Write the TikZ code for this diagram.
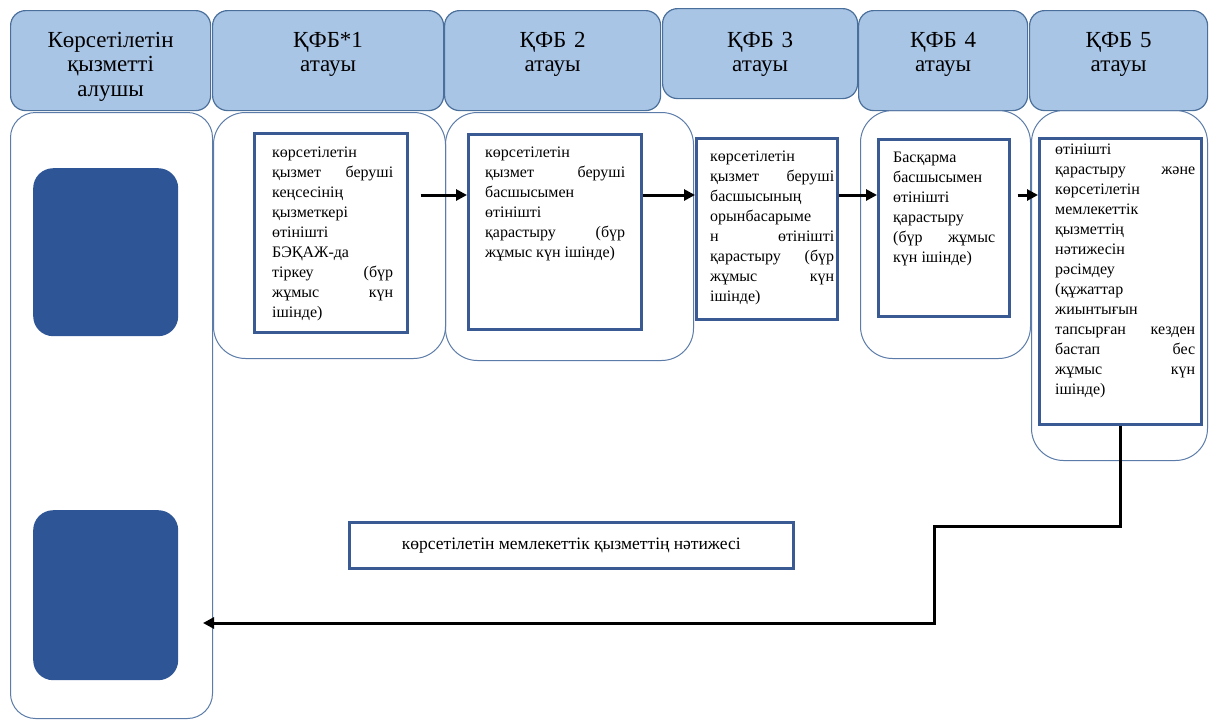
\documentclass[tikz,border=0pt]{standalone}
\usepackage{fontspec}
\setmainfont{Liberation Serif}
\usetikzlibrary{arrows.meta}

\definecolor{headfill}{HTML}{A9C5E6}
\definecolor{headline}{HTML}{4A6F9A}
\definecolor{laneline}{HTML}{5B7BA8}
\definecolor{boxline}{HTML}{3A5A94}
\definecolor{tokenblue}{HTML}{2E5596}

\tolerance=10000
\hyphenpenalty=10000

\tikzset{
  head/.style={draw=headline, fill=headfill, line width=1.2pt, rounded corners=15pt, anchor=north west, inner sep=0pt},
  headtext/.style={anchor=north, align=center, font=\fontsize{23}{24.5}\selectfont, inner sep=0pt},
  lane/.style={draw=laneline, line width=1pt, rounded corners=32pt, anchor=north west, inner sep=0pt},
  token/.style={fill=tokenblue, rounded corners=20pt, anchor=north west, inner sep=0pt},
  stepbox/.style={draw=boxline, line width=2.5pt, fill=white, anchor=north west, inner sep=0pt},
  steptext/.style={anchor=north west, align=justify, font=\fontsize{16}{20}\selectfont, inner sep=0pt},
  flow/.style={line width=3pt, -{Triangle[length=11pt,width=11pt]}},
}

\begin{document}
\begin{tikzpicture}[x=1pt,y=-1pt]
    \useasboundingbox (0,0) rectangle (1211,721);

    % Column heads
    \node[head, minimum width=200, minimum height=100] (h0) at (10,10) {};
    \node[head, minimum width=231, minimum height=100] (h1) at (212,10) {};
    \node[head, minimum width=216, minimum height=100] (h2) at (444,10) {};
    \node[head, minimum width=195, minimum height=90] (h3) at (662,8) {};
    \node[head, minimum width=169, minimum height=100] (h4) at (858,10) {};
    \node[head, minimum width=178, minimum height=100] (h5) at (1029,10) {};

    \node[headtext, text width=180] (h0text) at ([yshift=-22pt]h0.north) {Көрсетілетін\\ қызметті\\ алушы};
    \node[headtext, text width=210] (h1text) at ([yshift=-22pt]h1.north) {ҚФБ*1\\ атауы};
    \node[headtext, text width=196] (h2text) at ([yshift=-22pt]h2.north) {ҚФБ 2\\ атауы};
    \node[headtext, text width=175] (h3text) at ([yshift=-24pt]h3.north) {ҚФБ 3\\ атауы};
    \node[headtext, text width=150] (h4text) at ([yshift=-22pt]h4.north) {ҚФБ 4\\ атауы};
    \node[headtext, text width=158] (h5text) at ([yshift=-22pt]h5.north) {ҚФБ 5\\ атауы};

    % Lanes
    \node[lane, minimum width=202, minimum height=606, rounded corners=25pt] (lane0) at (10,112) {};
    \node[lane, minimum width=232, minimum height=246] (lane1) at (213,112) {};
    \node[lane, minimum width=248, minimum height=248] (lane2) at (445,112) {};
    \node[lane, minimum width=170, minimum height=248] (lane4) at (860,110) {};
    \node[lane, minimum width=176, minimum height=350] (lane5) at (1031,110) {};

    \node[token, minimum width=145, minimum height=168] (start) at (33,168) {};
    \node[token, minimum width=145, minimum height=170] (finish) at (33,510) {};

    % Steps
    \node[stepbox, minimum width=153, minimum height=199] (b1) at (253,132) {};
    \node[stepbox, minimum width=173, minimum height=195] (b2) at (467,133) {};
    \node[stepbox, minimum width=141, minimum height=181] (b3) at (695,137) {};
    \node[stepbox, minimum width=131, minimum height=177] (b4) at (877,138) {};
    \node[stepbox, minimum width=162, minimum height=286] (b5) at (1038,137) {};
    \node[stepbox, minimum width=444, minimum height=46] (res) at (348,521) {};

    \node[steptext, text width=121] (t1) at ([shift={(19,15)}]b1.north west)
        {көрсетілетін\newline қызмет беруші\linebreak кеңсесінің\newline қызметкері\newline өтінішті\newline БЭҚАЖ-да\newline тіркеу (бүр\linebreak жұмыс күн\linebreak ішінде)};
    \node[steptext, text width=140] (t2) at ([shift={(18,14)}]b2.north west)
        {көрсетілетін\newline қызмет беруші\linebreak басшысымен\newline өтінішті\newline қарастыру (бүр\linebreak жұмыс күн ішінде)};
    \node[steptext, text width=124] (t3) at ([shift={(15,14)}]b3.north west)
        {көрсетілетін\newline қызмет беруші\linebreak басшысының\newline орынбасарыме\newline н өтінішті\linebreak қарастыру (бүр\linebreak жұмыс күн\linebreak ішінде)};
    \node[steptext, text width=102] (t4) at ([shift={(16,14)}]b4.north west)
        {Басқарма\newline басшысымен\newline өтінішті\newline қарастыру\newline (бүр жұмыс\linebreak күн ішінде)};
    \node[steptext, text width=140] (t5) at ([shift={(17,7)}]b5.north west)
        {өтінішті\newline қарастыру және\linebreak көрсетілетін\newline мемлекеттік\newline қызметтің\newline нәтижесін\newline рәсімдеу\newline (құжаттар\newline жиынтығын\newline тапсырған кезден\linebreak бастап бес\linebreak жұмыс күн\linebreak ішінде)};
    \node[font=\fontsize{17.5}{20}\selectfont, inner sep=0pt] (restext) at (res.center) {көрсетілетін мемлекеттік қызметтің нәтижесі};

    % Flow between steps
    \draw[flow] ([xshift=12pt,yshift=-63pt]b1.north east) -- ([yshift=-62pt]b2.north west);
    \draw[flow] ([yshift=-62pt]b2.north east) -- ([yshift=-58pt]b3.north west);
    \draw[flow] ([yshift=-58pt]b3.north east) -- ([yshift=-57pt]b4.north west);
    \draw[flow] ([xshift=7pt,yshift=-57pt]b4.north east) -- ([yshift=-58pt]b5.north west);

    % Result goes back
    \coordinate (bend1) at (934,526);
    \coordinate (bend2) at (934,623);
    \coordinate (back) at (203,623);
    \draw[flow] (b5.south) |- (bend1) -- (bend2) -- (back);

\end{tikzpicture}
\end{document}
